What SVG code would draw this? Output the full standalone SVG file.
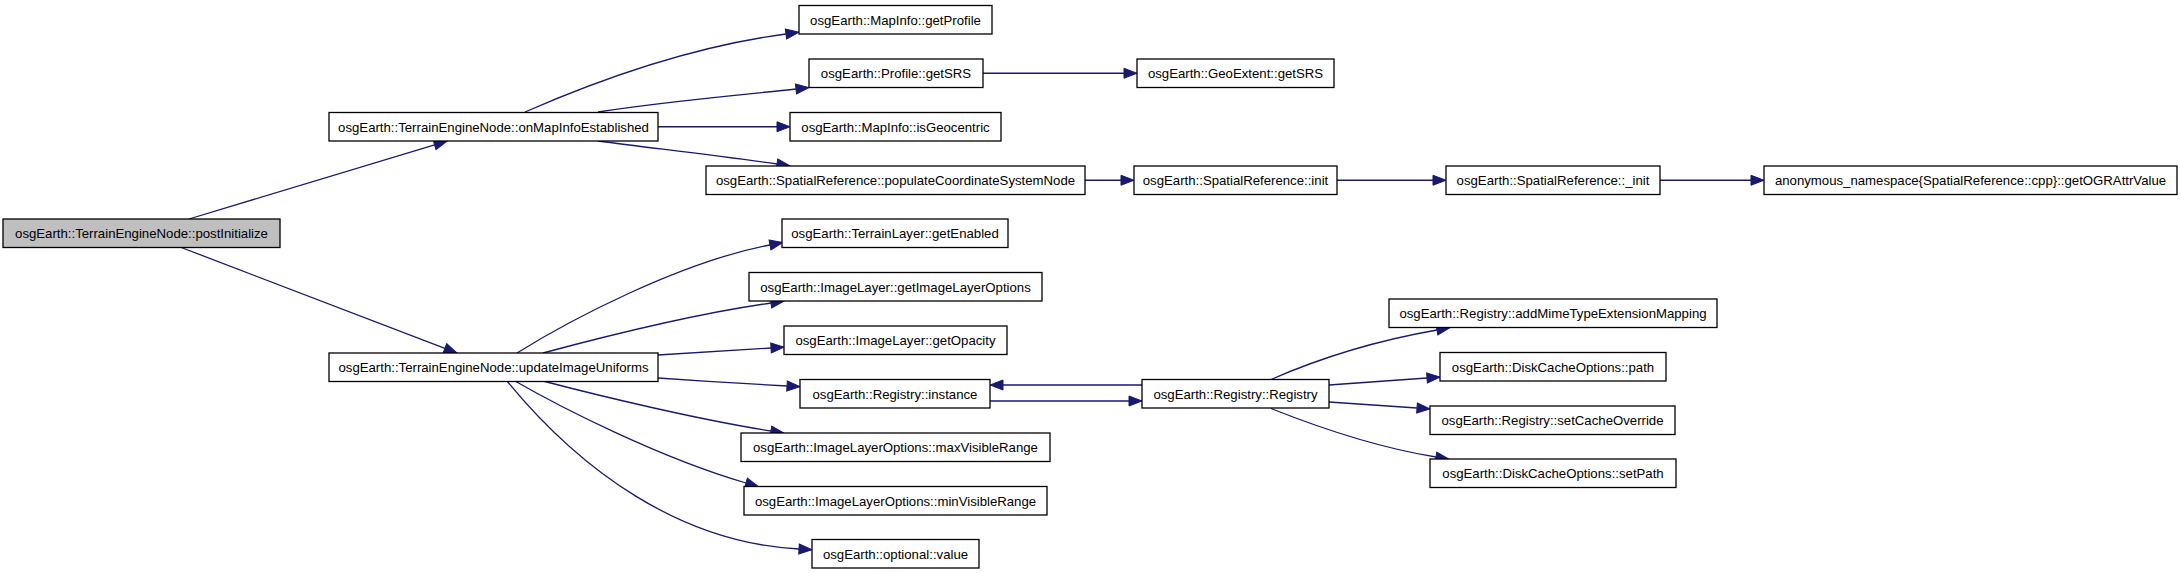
<svg xmlns="http://www.w3.org/2000/svg" width="2181" height="573" viewBox="0 0 2181 573">
<style>
.n rect{fill:#ffffff;stroke:#000000;stroke-width:1.3}
.n.root rect{fill:#bfbfbf}
.n text{font-family:"Liberation Sans",Arial,sans-serif;font-size:13.2px;fill:#000000;text-anchor:middle}
#edges path{fill:none;stroke:#191970;stroke-width:1.3;marker-end:url(#arr)}
</style>
<defs>
<marker id="arr" markerUnits="userSpaceOnUse" markerWidth="14" markerHeight="11" refX="0" refY="5" orient="auto" overflow="visible">
<path d="M0,0 L13,5 L0,10 z" fill="#191970" stroke="#191970" stroke-width="1"/>
</marker>
</defs>
<rect width="2181" height="573" fill="#ffffff"/>
<g id="edges">
<path d="M189,219 L434.6,144.8"/>
<path d="M180,247 L444.9,348.4"/>
<path d="M525,112 C580,88 680,48 786,34"/>
<path d="M598,112 C660,102 740,95 796,89"/>
<path d="M658,126.75 L777,126.75"/>
<path d="M598,141 C660,149 720,156 777,164"/>
<path d="M983,73.25 L1124,73.25"/>
<path d="M1085,180.25 L1121,180.25"/>
<path d="M1337,180.25 L1433,180.25"/>
<path d="M1660,180.25 L1751,180.25"/>
<path d="M517,353 C570,320 680,262 770,245"/>
<path d="M543,353 C610,335 700,313 771,303"/>
<path d="M658,355 L771,348"/>
<path d="M658,378 C700,381 750,384 787,386"/>
<path d="M543,381 C600,396 700,420 771,431"/>
<path d="M515,381 C560,407 660,458 746,483"/>
<path d="M507,381 C580,470 680,543 799,549"/>
<path d="M990,401 L1129,401"/>
<path d="M1142,385 L1003,385"/>
<path d="M1271,379.5 C1320,358 1380,340 1437,330"/>
<path d="M1329,385 L1427,378"/>
<path d="M1329,402 L1417,408"/>
<path d="M1271,408.5 C1320,428 1380,448 1436,457"/>
</g>
<g id="postInitialize" class="n root"><rect x="3" y="219" width="277" height="28.5"/><text x="141.5" y="238">osgEarth::TerrainEngineNode::postInitialize</text></g>
<g id="onMapInfoEstablished" class="n"><rect x="329" y="112.5" width="329" height="28.5"/><text x="493.5" y="131.5">osgEarth::TerrainEngineNode::onMapInfoEstablished</text></g>
<g id="updateImageUniforms" class="n"><rect x="329" y="353" width="329" height="28.5"/><text x="493.5" y="372">osgEarth::TerrainEngineNode::updateImageUniforms</text></g>
<g id="getProfile" class="n"><rect x="799" y="5.5" width="193" height="28.5"/><text x="895.5" y="24.5">osgEarth::MapInfo::getProfile</text></g>
<g id="ProfileGetSRS" class="n"><rect x="809" y="59" width="174" height="28.5"/><text x="896" y="78">osgEarth::Profile::getSRS</text></g>
<g id="GeoExtentGetSRS" class="n"><rect x="1137" y="59" width="197" height="28.5"/><text x="1235.5" y="78">osgEarth::GeoExtent::getSRS</text></g>
<g id="isGeocentric" class="n"><rect x="790" y="112.5" width="211" height="28.5"/><text x="895.5" y="131.5">osgEarth::MapInfo::isGeocentric</text></g>
<g id="populateCoordinateSystemNode" class="n"><rect x="706" y="166" width="379" height="28.5"/><text x="895.5" y="185">osgEarth::SpatialReference::populateCoordinateSystemNode</text></g>
<g id="SRinit" class="n"><rect x="1134" y="166" width="203" height="28.5"/><text x="1235.5" y="185">osgEarth::SpatialReference::init</text></g>
<g id="SR_init" class="n"><rect x="1446" y="166" width="214" height="28.5"/><text x="1553" y="185">osgEarth::SpatialReference::_init</text></g>
<g id="getOGRAttrValue" class="n"><rect x="1764" y="166" width="413" height="28.5"/><text x="1970.5" y="185">anonymous_namespace{SpatialReference::cpp}::getOGRAttrValue</text></g>
<g id="getEnabled" class="n"><rect x="782" y="219" width="226" height="28.5"/><text x="895" y="238">osgEarth::TerrainLayer::getEnabled</text></g>
<g id="getImageLayerOptions" class="n"><rect x="749" y="272.5" width="293" height="28.5"/><text x="895.5" y="291.5">osgEarth::ImageLayer::getImageLayerOptions</text></g>
<g id="getOpacity" class="n"><rect x="784" y="326" width="223" height="28.5"/><text x="895.5" y="345">osgEarth::ImageLayer::getOpacity</text></g>
<g id="instance" class="n"><rect x="800" y="379.5" width="190" height="28.5"/><text x="895" y="398.5">osgEarth::Registry::instance</text></g>
<g id="maxVisibleRange" class="n"><rect x="741" y="433" width="309" height="28.5"/><text x="895.5" y="452">osgEarth::ImageLayerOptions::maxVisibleRange</text></g>
<g id="minVisibleRange" class="n"><rect x="744" y="486.5" width="303" height="28.5"/><text x="895.5" y="505.5">osgEarth::ImageLayerOptions::minVisibleRange</text></g>
<g id="optionalValue" class="n"><rect x="812" y="539.5" width="167" height="28.5"/><text x="895.5" y="558.5">osgEarth::optional::value</text></g>
<g id="Registry" class="n"><rect x="1142" y="379.5" width="187" height="28.5"/><text x="1235.5" y="398.5">osgEarth::Registry::Registry</text></g>
<g id="addMimeTypeExtensionMapping" class="n"><rect x="1389" y="299" width="328" height="28.5"/><text x="1553" y="318">osgEarth::Registry::addMimeTypeExtensionMapping</text></g>
<g id="path" class="n"><rect x="1440" y="352.5" width="226" height="28.5"/><text x="1553" y="371.5">osgEarth::DiskCacheOptions::path</text></g>
<g id="setCacheOverride" class="n"><rect x="1430" y="406" width="245" height="28.5"/><text x="1552.5" y="425">osgEarth::Registry::setCacheOverride</text></g>
<g id="setPath" class="n"><rect x="1430" y="459" width="246" height="28.5"/><text x="1553" y="478">osgEarth::DiskCacheOptions::setPath</text></g>
</svg>
